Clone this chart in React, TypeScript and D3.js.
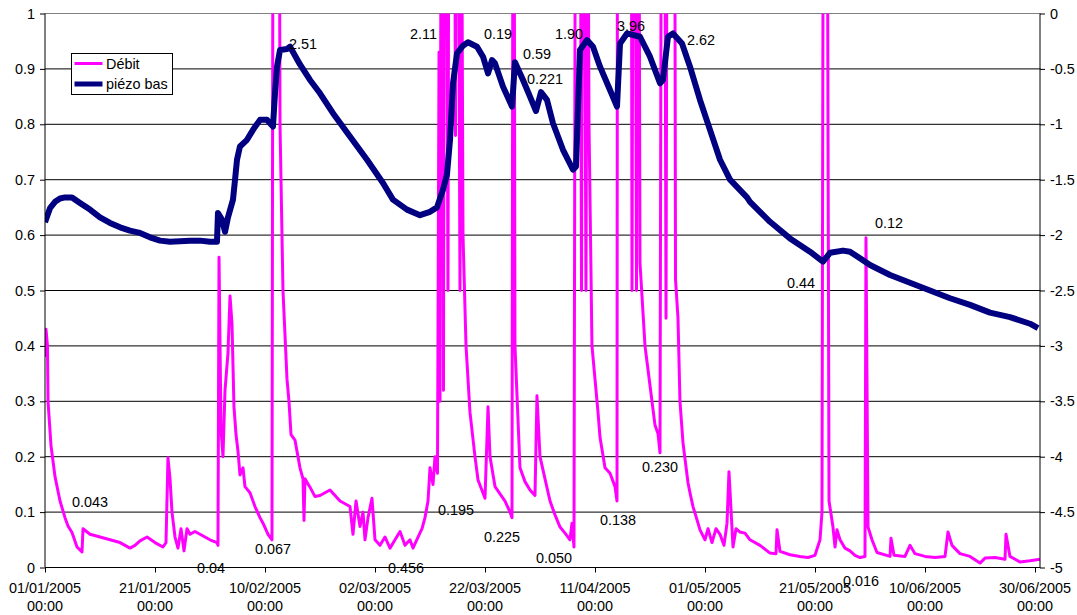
import { useEffect, useRef } from "react";
import * as d3 from "d3";

// days since 01/01/2005 00:00 and readings
const debitDays = [
  0, 0.18, 0.45, 0.55, 1.09, 1.82, 2.73, 3.64, 4.18, 4.91, 5.82, 6.73, 6.91, 8.18, 10.0, 11.82, 13.64, 15.45,
  16.36, 17.27, 18.55, 20.0, 21.45, 22.0, 22.36, 22.73, 23.09, 23.64, 24.18, 24.73, 25.27, 25.82, 26.36, 27.27,
  28.18, 29.09, 30.0, 31.27, 31.45, 31.64, 32.0, 32.36, 32.73, 33.27, 33.64, 34.0, 34.36, 34.73, 35.09, 35.45,
  36.0, 36.36, 37.27, 38.18, 39.09, 39.64, 40.55, 41.27, 41.64, 42.36, 42.73, 43.27, 44.0, 44.36, 44.73, 45.45,
  46.36, 46.91, 47.09, 47.27, 48.18, 49.09, 50.0, 51.82, 53.64, 55.45, 56.0, 56.55, 57.27, 57.82, 58.18, 58.73,
  59.45, 60.0, 60.91, 61.82, 62.73, 63.64, 64.55, 65.45, 66.36, 66.91, 67.82, 68.55, 69.09, 69.64, 70.0, 70.55,
  70.91, 71.36, 71.64, 71.82, 72.18, 72.45, 72.73, 73.27, 73.55, 74.36, 74.64, 74.91, 75.45, 75.73, 76.0, 76.55,
  77.27, 78.18, 78.73, 80.0, 80.55, 80.91, 81.82, 83.64, 84.55, 84.91, 85.18, 85.45, 86.36, 87.27, 88.18, 89.09,
  89.45, 90.0, 90.91, 91.82, 92.73, 93.64, 94.55, 95.45, 95.82, 96.18, 96.55, 97.27, 97.55, 97.82, 98.36, 98.64,
  98.91, 99.45, 100.55, 100.91, 101.82, 102.73, 103.64, 104.0, 104.27, 106.36, 106.73, 107.09, 107.55, 107.82,
  108.18, 109.09, 110.36, 110.91, 111.45, 111.82, 112.36, 112.91, 113.27, 114.36, 114.64, 115.09, 115.45, 116.0,
  116.91, 117.27, 117.82, 118.55, 119.09, 120.0, 120.55, 121.27, 122.0, 122.73, 123.45, 124.0, 124.36, 125.09,
  125.64, 126.36, 127.27, 128.18, 130.0, 131.82, 132.91, 133.09, 133.64, 135.45, 137.27, 138.73, 140.0, 140.91,
  141.27, 141.64, 142.18, 142.55, 143.27, 143.64, 144.0, 144.55, 145.45, 146.36, 147.27, 148.18, 149.09, 149.27,
  149.64, 150.36, 151.27, 153.64, 153.82, 154.36, 156.36, 157.27, 158.18, 160.0, 161.82, 163.64, 164.18, 164.91,
  166.36, 168.18, 170.0, 170.91, 172.73, 174.55, 174.73, 175.45, 177.27, 179.09, 180.91,
];
const debitValues = [
  0.38, 0.43, 0.4, 0.3, 0.22, 0.164, 0.12, 0.09, 0.075, 0.063, 0.037, 0.028, 0.07, 0.06, 0.055, 0.05, 0.045, 0.035,
  0.04, 0.048, 0.055, 0.045, 0.037, 0.045, 0.198, 0.16, 0.1, 0.055, 0.035, 0.07, 0.03, 0.07, 0.06, 0.065,
  0.06, 0.055, 0.05, 0.045, 0.04, 0.56, 0.25, 0.2, 0.32, 0.387, 0.49, 0.44, 0.29, 0.24, 0.21, 0.167,
  0.18, 0.146, 0.135, 0.11, 0.09, 0.08, 0.06, 0.05, 2.51, 2.2, 0.8, 0.5, 0.34, 0.3, 0.24, 0.23,
  0.18, 0.16, 0.085, 0.16, 0.145, 0.128, 0.13, 0.14, 0.12, 0.11, 0.06, 0.12, 0.074, 0.1, 0.05, 0.09,
  0.125, 0.05, 0.04, 0.055, 0.035, 0.05, 0.065, 0.04, 0.05, 0.035, 0.055, 0.07, 0.09, 0.12, 0.18, 0.15,
  0.2, 0.17, 0.93, 0.3, 2.11, 0.32, 2.0, 0.5, 2.0, 1.6, 0.78, 2.0, 0.5, 1.3, 0.6, 0.4,
  0.28, 0.2, 0.158, 0.125, 0.29, 0.2, 0.146, 0.12, 0.1, 0.09, 2.0, 0.4, 0.18, 0.155, 0.14, 0.13,
  0.31, 0.2, 0.16, 0.12, 0.095, 0.073, 0.062, 0.05, 0.08, 0.037, 1.9, 1.5, 0.5, 1.8, 0.5, 1.5,
  0.8, 0.4, 0.28, 0.235, 0.18, 0.17, 0.146, 0.12, 3.96, 3.0, 0.5, 2.0, 0.5, 2.0,
  0.55, 0.4, 0.3, 0.257, 0.242, 0.207, 2.62, 0.45, 2.0, 2.0, 0.52, 0.45, 0.3, 0.225,
  0.153, 0.135, 0.11, 0.086, 0.068, 0.05, 0.07, 0.045, 0.07, 0.06, 0.04, 0.08, 0.173, 0.037,
  0.07, 0.064, 0.062, 0.05, 0.04, 0.026, 0.025, 0.068, 0.029, 0.023, 0.02, 0.018, 0.022, 0.05,
  0.1, 2.0, 1.5, 0.12, 0.073, 0.037, 0.068, 0.05, 0.035, 0.03, 0.022, 0.018, 0.02, 0.595,
  0.073, 0.05, 0.027, 0.02, 0.053, 0.022, 0.02, 0.04, 0.025, 0.02, 0.018, 0.02, 0.064, 0.04,
  0.025, 0.02, 0.008, 0.017, 0.018, 0.015, 0.06, 0.02, 0.01, 0.012, 0.015,
];

const piezoDays = [
  0, 0.91, 1.82, 2.73, 3.64, 4.91, 6.36, 8.18, 10.0, 11.82, 13.64, 15.45, 17.27, 19.09, 20.91, 22.73, 26.36,
  28.18, 30.0, 31.27, 31.45, 32.18, 32.73, 33.27, 34.18, 34.55, 34.91, 35.45, 36.73, 37.82, 39.09, 40.36, 40.91,
  41.45, 41.82, 42.18, 42.73, 44.0, 44.55, 46.36, 48.18, 50.0, 52.36, 55.45, 58.55, 61.45, 63.27, 65.82, 68.18,
  70.0, 71.27, 72.36, 73.09, 73.64, 74.18, 74.91, 76.0, 76.91, 78.55, 79.64, 80.55, 81.27, 81.82, 83.27, 84.91,
  85.45, 86.91, 88.18, 89.27, 90.18, 91.27, 92.36, 94.18, 96.0, 96.55, 97.27, 98.55, 99.64, 100.91, 102.73, 104.0,
  104.55, 105.82, 108.18, 110.0, 111.82, 112.36, 113.27, 114.18, 115.82, 117.27, 119.09, 120.91, 122.73, 124.55,
  127.64, 128.18, 130.0, 131.82, 135.45, 139.09, 141.45, 142.73, 145.09, 146.36, 148.18, 150.0, 153.64, 157.27,
  160.91, 164.55, 168.18, 171.82, 175.45, 179.09, 180.55,
];
const piezoValues = [
  -1.885, -1.757, -1.7, -1.67, -1.66, -1.66, -1.71, -1.77, -1.84, -1.89, -1.93, -1.96, -1.98, -2.02, -2.05, -2.06, -2.05,
  -2.05, -2.06, -2.06, -1.8, -1.86, -1.97, -1.84, -1.68, -1.5, -1.32, -1.2, -1.14, -1.05, -0.96, -0.96, -0.99,
  -1.02, -0.72, -0.48, -0.33, -0.32, -0.3, -0.46, -0.6, -0.72, -0.9, -1.11, -1.32, -1.53, -1.68, -1.77, -1.82,
  -1.79, -1.75, -1.59, -1.45, -1.14, -0.63, -0.36, -0.29, -0.26, -0.3, -0.39, -0.54, -0.42, -0.45, -0.66, -0.84,
  -0.44, -0.6, -0.75, -0.88, -0.71, -0.78, -0.99, -1.23, -1.41, -1.38, -0.33, -0.24, -0.3, -0.48, -0.69, -0.84,
  -0.27, -0.18, -0.21, -0.39, -0.63, -0.6, -0.21, -0.18, -0.27, -0.48, -0.78, -1.05, -1.32, -1.5,
  -1.66, -1.7, -1.79, -1.88, -2.03, -2.15, -2.24, -2.16, -2.14, -2.15, -2.21, -2.27, -2.36, -2.43,
  -2.5, -2.57, -2.63, -2.7, -2.74, -2.8, -2.84,
];

// value annotations written on the chart (day, left-axis value at baseline)
const noteTexts = [
  "0.043", "0.04", "0.067", "2.51", "2.11", "0.19", "0.59", "0.221", "1.90", "3.96",
  "2.62", "0.12", "0.44", "0.195", "0.225", "0.050", "0.456", "0.138", "0.230", "0.016",
];
const noteDays = [
  4.91, 27.64, 38.18, 44.36, 66.36, 79.82, 86.91, 87.64, 92.73, 104.0,
  116.73, 150.91, 134.91, 71.45, 79.82, 89.27, 62.36, 100.91, 108.55, 145.09,
];
const noteValues = [
  0.11, -0.01, 0.025, 0.936, 0.954, 0.954, 0.918, 0.873, 0.954, 0.969,
  0.943, 0.613, 0.505, 0.095, 0.046, 0.009, -0.01, 0.077, 0.173, -0.033,
];

const xTickLabels = [
  "01/01/2005", "21/01/2005", "10/02/2005", "02/03/2005", "22/03/2005",
  "11/04/2005", "01/05/2005", "21/05/2005", "10/06/2005", "30/06/2005",
];
const leftTicks = [0, 0.1, 0.2, 0.3, 0.4, 0.5, 0.6, 0.7, 0.8, 0.9, 1];
const rightTicks = [0, -0.5, -1, -1.5, -2, -2.5, -3, -3.5, -4, -4.5, -5];
const seriesNames = ["Débit", "piézo bas"];

const FONT = "'Liberation Sans', Arial, sans-serif";
const DAY = 86400000;
const t0 = Date.UTC(2005, 0, 1);
const toDate = (d: number) => new Date(t0 + d * DAY);

export default function App() {
  const svgRef = useRef<SVGSVGElement>(null);

  useEffect(() => {
    if (!svgRef.current) return;
    const svg = d3.select(svgRef.current);
    svg.selectAll("*").remove();

    const left = 45, right = 1040.5, top = 13.5, bottom = 567.5;

    const x = d3.scaleUtc().domain([toDate(0), new Date(Date.UTC(2005, 6, 1))]).range([left, right]);
    const yL = d3.scaleLinear().domain([0, 1]).range([bottom, top]);
    const yR = d3.scaleLinear().domain([-5, 0]).range([bottom, top]);
    const parse = d3.utcParse("%d/%m/%Y");

    svg.append("defs").append("clipPath").attr("id", "plot")
      .append("rect").attr("x", left).attr("y", top).attr("width", right - left).attr("height", bottom - top);

    // Grid lines
    svg.append("g").selectAll("line")
      .data(leftTicks.slice(1))
      .join("line")
      .attr("x1", left).attr("x2", right)
      .attr("y1", (d) => yL(d)).attr("y2", (d) => yL(d))
      .attr("stroke", (d) => (d === 1 ? "#808080" : "#000"))
      .attr("stroke-width", 1);

    const plot = svg.append("g").attr("clip-path", "url(#plot)");

    const debit = debitDays.map((d, i) => ({ t: toDate(d), v: debitValues[i] }));
    const piezo = piezoDays.map((d, i) => ({ t: toDate(d), v: piezoValues[i] }));

    plot.append("path")
      .datum(debit)
      .attr("fill", "none")
      .attr("stroke", "#ff00ff")
      .attr("stroke-width", 3)
      .attr("stroke-linejoin", "round")
      .attr("d", d3.line<{ t: Date; v: number }>().x((d) => x(d.t)).y((d) => yL(d.v)));

    plot.append("path")
      .datum(piezo)
      .attr("fill", "none")
      .attr("stroke", "#000080")
      .attr("stroke-width", 6)
      .attr("stroke-linejoin", "round")
      .attr("d", d3.line<{ t: Date; v: number }>().x((d) => x(d.t)).y((d) => yR(d.v)));

    // Axes
    const xAxis = svg.append("g")
      .attr("transform", `translate(0,${bottom})`)
      .call(d3.axisBottom(x).tickValues(xTickLabels.map((s) => parse(s)!)).tickSize(5).tickFormat(() => ""));
    xAxis.select(".domain").attr("stroke", "#000").attr("d", `M${left},0H${right}`);
    xAxis.selectAll(".tick line").attr("stroke", "#000");

    const xl = svg.append("g").attr("font-family", FONT).attr("font-size", 14.4).attr("text-anchor", "middle");
    xTickLabels.forEach((s) => {
      const px = x(parse(s)!);
      xl.append("text").attr("x", px).attr("y", 593).text(s);
      xl.append("text").attr("x", px).attr("y", 611).text("00:00");
    });

    const yAxisL = svg.append("g")
      .attr("transform", `translate(${left},0)`)
      .call(d3.axisLeft(yL).tickValues(leftTicks).tickSize(5).tickPadding(5).tickFormat((d) => String(d)));
    yAxisL.select(".domain").attr("stroke", "#000").attr("d", `M0,${top}V${bottom}`);
    yAxisL.selectAll("text").attr("font-family", FONT).attr("font-size", 14.4).attr("fill", "#000");

    const yAxisR = svg.append("g")
      .attr("transform", `translate(${right - 0.5},0)`)
      .call(d3.axisRight(yR).tickValues(rightTicks).tickSize(5).tickPadding(5).tickFormat((d) => String(d)));
    yAxisR.select(".domain").attr("stroke", "#000").attr("d", `M0,${top}V${bottom}`);
    yAxisR.selectAll("text").attr("font-family", FONT).attr("font-size", 14.4).attr("fill", "#000");

    // Value annotations
    svg.append("g")
      .attr("font-family", FONT)
      .attr("font-size", 14.4)
      .selectAll("text")
      .data(noteTexts)
      .join("text")
      .attr("x", (_, i) => x(toDate(noteDays[i])))
      .attr("y", (_, i) => yL(noteValues[i]))
      .attr("fill", "#000")
      .text((d) => d);

    // Legend
    const lg = svg.append("g").attr("transform", "translate(71.5,53.5)");
    lg.append("rect").attr("width", 101).attr("height", 41).attr("fill", "#fff").attr("stroke", "#000");
    const colors = ["#ff00ff", "#000080"];
    const widths = [3, 5];
    seriesNames.forEach((name, i) => {
      const cy = 10 + i * 20.5;
      lg.append("line").attr("x1", 3).attr("x2", 31).attr("y1", cy).attr("y2", cy)
        .attr("stroke", colors[i]).attr("stroke-width", widths[i]);
      lg.append("text").attr("x", 34.5).attr("y", cy + 5).attr("font-family", FONT).attr("font-size", 14.4)
        .text(name);
    });
  }, []);

  return (
    <svg
      ref={svgRef}
      width={1077}
      height={615}
      style={{ position: "absolute", left: 0, top: 0, background: "#fff" }}
    />
  );
}
